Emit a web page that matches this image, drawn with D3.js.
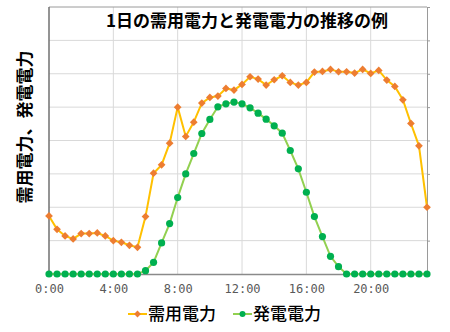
<!DOCTYPE html>
<html><head><meta charset="utf-8">
<script src="https://cdn.jsdelivr.net/npm/d3@7"></script>
<style>html,body{margin:0;padding:0;background:#fff;}svg{display:block;}</style>
</head><body>
<svg id="c" width="450" height="332"></svg>
<script>
const times = d3.range(0, 48).map(i => i * 0.5);
const demand = [1.74,1.34,1.14,1.05,1.21,1.21,1.23,1.14,1.0,0.95,0.86,0.80,
  1.72,3.02,3.27,3.92,5.0,4.12,4.55,5.12,5.29,5.33,5.56,5.51,
  5.68,5.91,5.84,5.66,5.82,5.94,5.74,5.66,5.74,6.05,6.07,6.13,
  6.06,6.06,6.02,6.13,6.01,6.10,5.81,5.62,5.22,4.51,3.84,2.0];
const generation = [0,0,0,0,0,0,0,0,0,0,0,0,
  0.1,0.35,0.93,1.51,2.29,3.0,3.61,4.21,4.63,5.01,5.10,5.15,
  5.10,4.98,4.82,4.64,4.44,4.22,3.70,3.15,2.45,1.72,1.12,0.53,
  0.22,0,0,0,0,0,0,0,0,0,0,0];
const xTicks = [0,4,8,12,16,20];
const xTickLabels = ["0:00","4:00","8:00","12:00","16:00","20:00"];
const yTicks = [1,2,3,4,5,6,7];
const seriesNames = ["需用電力","発電電力"];
const title = "1日の需用電力と発電電力の推移の例";
const yLabel = "需用電力、発電電力";

const svg = d3.select("#c");
const L = 49, R = 427, T = 7, B = 274;
const x = d3.scaleLinear().domain([0, 23.5]).range([L, R]);
const y = d3.scaleLinear().domain([0, 8]).range([B, T]);
const jp = "'Noto Sans CJK JP','Noto Sans',sans-serif";

// grid
svg.append("g").selectAll("line").data(yTicks).join("line")
  .attr("x1", L).attr("x2", R).attr("y1", d => y(d)).attr("y2", d => y(d))
  .attr("stroke", "#d9d9d9").attr("stroke-width", 1);
svg.append("g").selectAll("line").data(xTicks.filter(d => d > 0)).join("line")
  .attr("y1", T).attr("y2", B).attr("x1", d => x(d)).attr("x2", d => x(d))
  .attr("stroke", "#d9d9d9").attr("stroke-width", 1);

// top border
svg.append("line").attr("x1", L).attr("x2", R).attr("y1", y(8)).attr("y2", y(8))
  .attr("stroke", "#9a9a9a");
// right axis with small outer ticks
const ra = svg.append("g").attr("transform", `translate(${R},0)`)
  .call(d3.axisRight(y).tickValues([1,2,3,4,5,6,7,8]).tickSize(3).tickFormat(""));
ra.selectAll("path,line").attr("stroke", "#9a9a9a");
// left axis
svg.append("line").attr("x1", L).attr("x2", L).attr("y1", T).attr("y2", B)
  .attr("stroke", "#707070").attr("stroke-width", 1.5);

// x axis
const xa = svg.append("g").attr("transform", `translate(0,${B})`)
  .call(d3.axisBottom(x).tickValues(xTicks).tickSize(0).tickPadding(10)
    .tickFormat((d, i) => xTickLabels[i]));
xa.select(".domain").attr("stroke", "#8a8a8a").attr("stroke-width", 1.5);
xa.selectAll("text").attr("font-family", "'DejaVu Sans Mono',monospace")
  .attr("font-size", 12).attr("fill", "#595959");

const line = d3.line().x((d, i) => x(times[i])).y(d => y(d));

// generation
svg.append("path").datum(generation).attr("d", line).attr("fill", "none")
  .attr("stroke", "#92D050").attr("stroke-width", 2);
svg.append("g").selectAll("circle").data(generation).join("circle")
  .attr("cx", (d, i) => x(times[i])).attr("cy", d => y(d)).attr("r", 3.6)
  .attr("fill", "#00B050");

// demand
svg.append("path").datum(demand).attr("d", line).attr("fill", "none")
  .attr("stroke", "#FFC000").attr("stroke-width", 2);
const diamond = d3.symbol().type(d3.symbolDiamond2).size(38);
svg.append("g").selectAll("path").data(demand).join("path")
  .attr("d", diamond)
  .attr("transform", (d, i) => `translate(${x(times[i])},${y(d)})`)
  .attr("fill", "#ED7D31");

// title
svg.append("text").attr("x", 247).attr("y", 27).attr("text-anchor", "middle")
  .attr("font-family", jp).attr("font-weight", "bold").attr("font-size", 17)
  .attr("fill", "#000").text(title);

// y label
svg.append("text").attr("transform", "translate(31,127) rotate(-90)")
  .attr("text-anchor", "middle").attr("font-family", jp).attr("font-weight", "bold")
  .attr("font-size", 17).attr("fill", "#000").text(yLabel);

// legend
const leg = svg.append("g");
const legItems = [
  {name: seriesNames[0], lc: "#FFC000", mc: "#ED7D31", sym: "d", x0: 128},
  {name: seriesNames[1], lc: "#92D050", mc: "#00B050", sym: "c", x0: 233}
];
legItems.forEach(it => {
  leg.append("line").attr("x1", it.x0).attr("x2", it.x0 + 19).attr("y1", 314).attr("y2", 314)
    .attr("stroke", it.lc).attr("stroke-width", 2);
  if (it.sym === "d") {
    leg.append("path").attr("d", d3.symbol().type(d3.symbolDiamond2).size(30))
      .attr("transform", `translate(${it.x0 + 9.5},314)`).attr("fill", it.mc);
  } else {
    leg.append("circle").attr("cx", it.x0 + 9.5).attr("cy", 314).attr("r", 3).attr("fill", it.mc);
  }
  leg.append("text").attr("x", it.x0 + 20).attr("y", 320).attr("font-family", jp)
    .attr("font-size", 17).attr("font-weight", 500).attr("fill", "#000").text(it.name);
});
</script>
</body></html>
